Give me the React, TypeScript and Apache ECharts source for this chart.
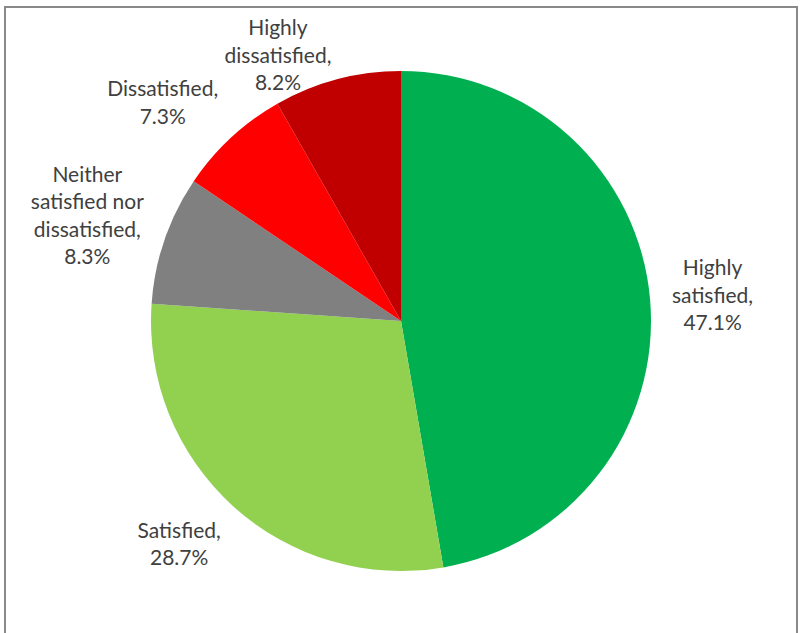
import React, { useEffect, useRef } from "react";
import * as echarts from "echarts";

const categories = [
  "Highly satisfied",
  "Satisfied",
  "Neither satisfied nor dissatisfied",
  "Dissatisfied",
  "Highly dissatisfied",
];
const labelNames = [
  "Highly\nsatisfied",
  "Satisfied",
  "Neither\nsatisfied nor\ndissatisfied",
  "Dissatisfied",
  "Highly\ndissatisfied",
];
const values = [47.1, 28.7, 8.3, 7.3, 8.2];
const colors = ["#00B050", "#92D050", "#808080", "#FF0000", "#C00000"];

const CX = 401;
const CY = 321;
const RADIUS = 250;
const LABEL_R = 272;
const TOP_LIMIT = 13;

export default function App() {
  const ref = useRef<HTMLDivElement>(null);

  useEffect(() => {
    if (!ref.current) return;
    const chart = echarts.init(ref.current, undefined, { renderer: "svg" });
    const total = values.reduce((a, b) => a + b, 0);
    const mids: number[] = [];
    let acc = 0;
    values.forEach((v) => {
      mids.push(((acc + v / 2) / total) * Math.PI * 2);
      acc += v;
    });
    const clamp = (t: number) => Math.max(-1, Math.min(1, t));

    chart.setOption({
      animation: false,
      backgroundColor: "#ffffff",
      graphic: [
        {
          type: "rect",
          shape: { x: 5, y: 7, width: 792, height: 660 },
          style: { fill: "none", stroke: "#898989", lineWidth: 2 },
          silent: true,
        },
      ],
      series: [
        {
          type: "pie",
          center: [CX, CY],
          radius: RADIUS,
          startAngle: 90,
          clockwise: true,
          avoidLabelOverlap: false,
          itemStyle: { borderWidth: 0 },
          label: {
            show: true,
            position: "outside",
            overflow: "none",
            fontFamily: "Lato",
            fontSize: 21,
            lineHeight: 27.5,
            color: "#404040",
            align: "center",
            formatter: (p: any) =>
              `${labelNames[p.dataIndex]},\n${values[p.dataIndex].toFixed(1)}%`,
          },
          labelLine: { show: false, length: 10, length2: 0 },
          labelLayout: (params: any) => {
            const i = params.dataIndex;
            const a = mids[i];
            const ux = Math.sin(a);
            const uy = -Math.cos(a);
            const hw = params.labelRect.width / 2;
            const hh = params.labelRect.height / 2;
            const px = CX + LABEL_R * ux;
            const py = CY + LABEL_R * uy;
            let x = px + clamp(1.414 * ux) * hw;
            let y = py + uy * hh;
            if (y - hh < TOP_LIMIT) {
              y = TOP_LIMIT + hh;
              x = px + Math.sign(ux) * hw;
            }
            return { x, y, align: "center", verticalAlign: "middle" };
          },
          data: categories.map((name, i) => ({
            name,
            value: values[i],
            itemStyle: { color: colors[i] },
          })),
        },
      ],
    });
    return () => chart.dispose();
  }, []);

  return (
    <div
      ref={ref}
      style={{ position: "fixed", left: 0, top: 0, width: 801, height: 633 }}
    />
  );
}
